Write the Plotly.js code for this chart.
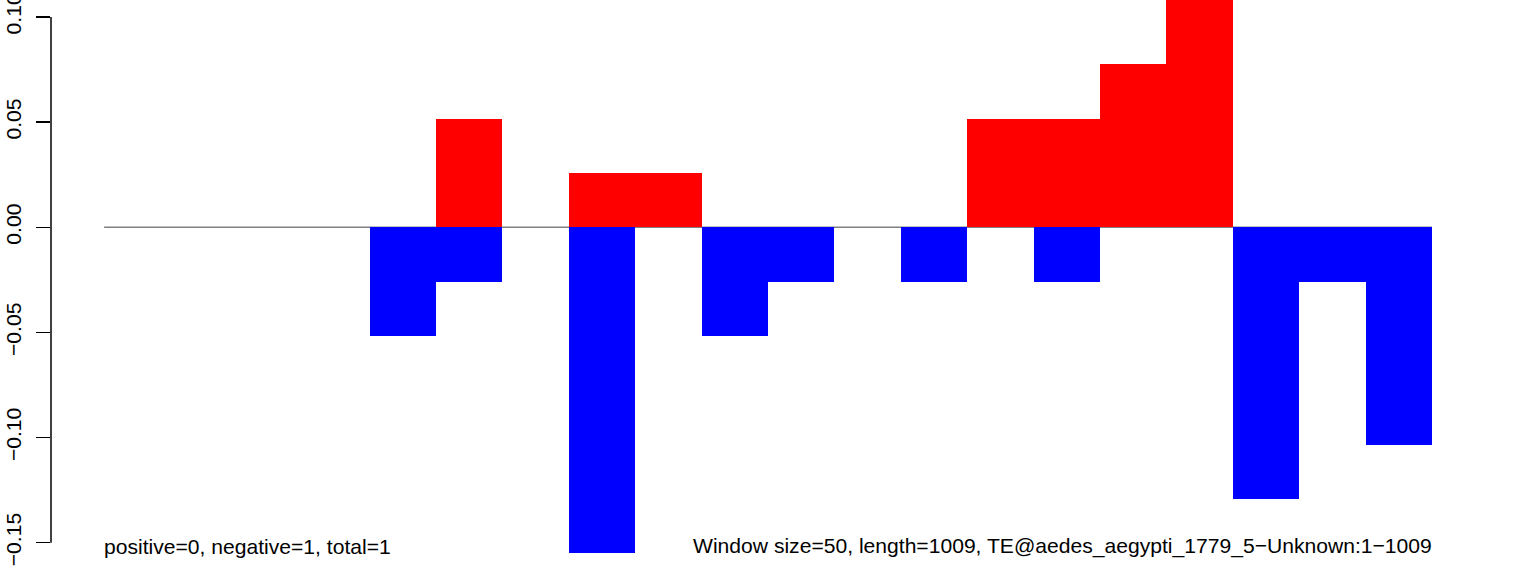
<!DOCTYPE html>
<html>
<head>
<meta charset="utf-8">
<script src="https://cdn.plot.ly/plotly-3.0.1.min.js"></script>
<style>html,body{margin:0;padding:0;background:#fff;}#chart{width:1536px;height:571px;}</style>
</head>
<body>
<div id="chart"></div>
<script>
// Window start positions (bp), window size 50
const windowStarts = [0, 50, 100, 150, 200, 250, 300, 350, 400, 450, 500, 550, 600, 650, 700, 750, 800, 850, 900, 950];
const windowSize = 50;
// Positive (red) and negative (blue) values per window
const positiveValues = [0, 0, 0, 0, 0, 0.0517, 0, 0.0258, 0.0258, 0, 0, 0, 0, 0.0517, 0.0517, 0.0775, 0.1292, 0, 0, 0];
const negativeValues = [0, 0, 0, 0, -0.0517, -0.0258, 0, -0.155, 0, -0.0517, -0.0258, 0, -0.0258, 0, -0.0258, 0, 0, -0.1292, -0.0258, -0.1033];
const yTickVals = [-0.15, -0.10, -0.05, 0.00, 0.05, 0.10];
const yTickText = ["\u22120.15", "\u22120.10", "\u22120.05", "0.00", "0.05", "0.10"];
const leftLabel = "positive=0, negative=1, total=1";
const rightLabel = "Window size=50, length=1009, TE@aedes_aegypti_1779_5\u2212Unknown:1\u22121009";

const centers = windowStarts.map(s => s + windowSize / 2);
const seqEnd = windowStarts[windowStarts.length - 1] + windowSize;
const pad = 0.04 * seqEnd;
const font = {family: "Liberation Sans, Arial, sans-serif", size: 21.1, color: "#000"};

const traces = [
  {type: "bar", x: centers, y: positiveValues, width: windowSize, marker: {color: "#ff0000", line: {width: 0}}, hoverinfo: "x+y", showlegend: false},
  {type: "bar", x: centers, y: negativeValues, width: windowSize, marker: {color: "#0000ff", line: {width: 0}}, hoverinfo: "x+y", showlegend: false}
];

const layout = {
  width: 1536, height: 571,
  margin: {l: 51, r: 51, t: 0, b: 0, pad: 0},
  paper_bgcolor: "#fff", plot_bgcolor: "#fff",
  barmode: "overlay", bargap: 0,
  showlegend: false,
  xaxis: {range: [-pad, seqEnd + pad], showgrid: false, zeroline: false, showline: false, showticklabels: false, ticks: ""},
  yaxis: {range: [-0.16346, 0.1081], showgrid: false, zeroline: false, showline: false,
          ticks: "outside", ticklen: 14, tickwidth: 1.5, tickcolor: "#000",
          tickmode: "array", tickvals: yTickVals, ticktext: yTickText,
          tickangle: -90, tickfont: font, ticklabelstandoff: 7, ticklabeloverflow: "allow"},
  shapes: [
    {type: "line", xref: "x", yref: "y", x0: 0, x1: seqEnd, y0: 0, y1: 0, line: {color: "#808080", width: 1.5}, layer: "below"},
    {type: "line", xref: "paper", yref: "y", x0: 0, x1: 0, y0: yTickVals[0], y1: yTickVals[yTickVals.length - 1], line: {color: "#000", width: 1.5}}
  ],
  annotations: [
    {text: leftLabel, x: 0, y: -0.1516, xref: "x", yref: "y", xanchor: "left", yanchor: "middle", xshift: -2, showarrow: false, font: font},
    {text: rightLabel, x: seqEnd, y: -0.1516, xref: "x", yref: "y", xanchor: "right", yanchor: "middle", xshift: 2, showarrow: false, font: font}
  ]
};

Plotly.newPlot("chart", traces, layout, {staticPlot: true, displayModeBar: false});
</script>
</body>
</html>
